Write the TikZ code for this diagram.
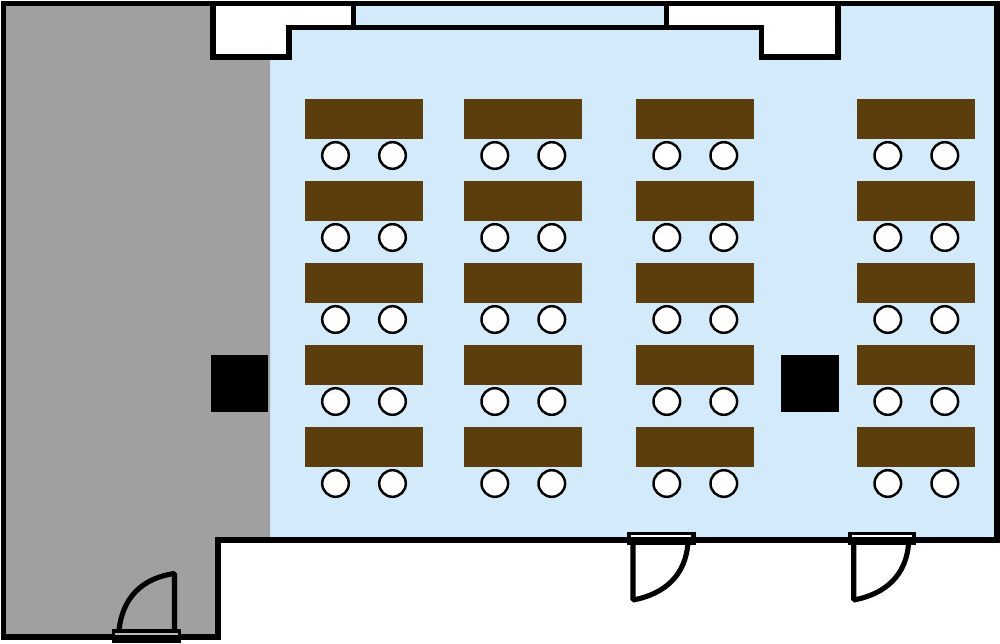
\documentclass[tikz,border=0pt]{standalone}
\usepackage{tikz}
\usetikzlibrary{calc}

\definecolor{roomblue}{HTML}{D2EAF9}
\definecolor{stagegray}{HTML}{A0A0A0}
\definecolor{deskbrown}{HTML}{5C3D0E}

\tikzset{
    wall/.style = {draw = black, line width = 2.9pt, line join = miter},
    desk/.style = {fill = deskbrown},
    chair/.style = {draw = black, fill = white, line width = 1.4pt},
    pillar/.style = {fill = black},
    doorleaf/.style = {draw = black, line width = 2.9pt, line join = bevel}
}

\begin{document}
\begin{tikzpicture}[x = 0.02cm, y = -0.02cm]

    \useasboundingbox (0,0) rectangle (1000,643);

    % floor
    \fill[roomblue] (270,3.5) rectangle (997,540);
    \fill[stagegray] (3.5,3.5) -- (270,3.5) -- (270,540) -- (218,540) -- (218,637) -- (3.5,637) -- cycle;

    % alcoves at the top
    \fill[white] (213,3.5) -- (213,57) -- (289,57) -- (289,27.7) -- (353.5,27.7) -- (353.5,3.5) -- cycle;
    \fill[white] (666.5,3.5) -- (666.5,27.7) -- (761.5,27.7) -- (761.5,57) -- (838,57) -- (838,3.5) -- cycle;

    % desks and chairs
    \foreach \col in {305,464.3,636.3,857.3}{
        \foreach \row in {99,181,263,345,427}{
            \fill[desk] (\col,\row) rectangle ++(118,40);
            \draw[chair] ($(\col,\row)+(30.5,56.5)$) circle (13.3);
            \draw[chair] ($(\col,\row)+(87.5,56.5)$) circle (13.3);
        }
    }

    % pillars
    \fill[pillar] (210.5,354.5) rectangle ++(57.5,57.5);
    \fill[pillar] (781,354.5) rectangle ++(57.5,57.5);

    % walls
    \draw[wall] (3.5,3.5) -- (997,3.5) -- (997,540) -- (218,540) -- (218,637) -- (3.5,637) -- cycle;
    \draw[wall] (213,3.5) -- (213,57) -- (289,57) -- (289,27.7) -- (761.5,27.7) -- (761.5,57) -- (838,57) -- (838,3.5);
    \draw[wall] (353.5,3.5) -- (353.5,27.7);
    \draw[wall] (666.5,3.5) -- (666.5,27.7);

    % door on the left
    \draw[doorleaf] (119,631) .. controls (122,598) and (142,578) .. (174.5,573.5) -- (174.5,631);
    \fill[black] (112,629) rectangle (181,643);
    \fill[stagegray!75!white] (115,632.7) rectangle (178,635.3);

    % doors on the right
    \foreach \shift in {0,220.7}{
        \begin{scope}[xshift = \shift*0.02cm]
            \draw[doorleaf] (633,542) -- (633,600) .. controls (665,594) and (686,575) .. (688,542);
            \fill[black] (627,531.5) rectangle (695.5,544.5);
            \fill[white] (631,534.7) rectangle (691,536.7);
        \end{scope}
    }

\end{tikzpicture}
\end{document}
